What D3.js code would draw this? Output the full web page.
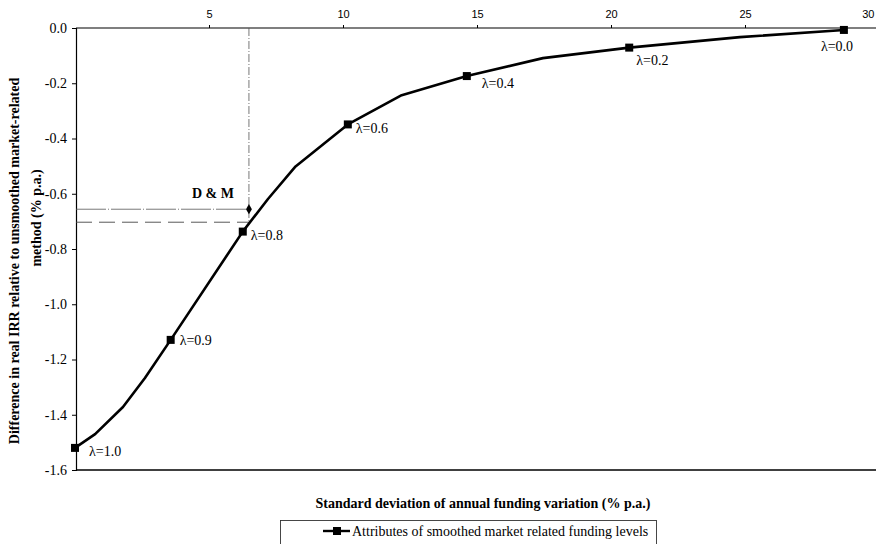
<!DOCTYPE html>
<html>
<head>
<meta charset="utf-8">
<script src="https://cdn.jsdelivr.net/npm/d3@7"></script>
<style>
  html, body { margin: 0; padding: 0; background: #fff; }
  svg { display: block; }
</style>
</head>
<body>
<svg id="chart" width="876" height="544"></svg>
<script>
// Standard deviation of annual funding variation (% p.a.) for each smoothing level
const stdDev  = [0.0, 0.75, 1.79, 2.61, 3.57, 6.26, 7.20, 8.23, 10.18, 12.19, 14.62, 17.46, 20.68, 24.81, 28.69];
// Difference in real IRR relative to the unsmoothed method (% p.a.)
const irrDiff = [-1.52, -1.47, -1.372, -1.267, -1.129, -0.737, -0.619, -0.501, -0.349, -0.243, -0.174, -0.109, -0.071, -0.033, -0.007];
// Smoothing parameter of each point (null = no marker drawn)
const lambdaLabels = ["1.0", null, null, null, "0.9", "0.8", null, null, "0.6", null, "0.4", null, "0.2", null, "0.0"];

// D & M reference point and the dashed comparison level
const dmPoint = { x: 6.49, y: -0.656 };
const dmLevel = -0.703;

const xTicks = [5, 10, 15, 20, 25, 30];
const yTicks = [0.0, -0.2, -0.4, -0.6, -0.8, -1.0, -1.2, -1.4, -1.6];

const svg = d3.select("#chart");
const serif = "'Liberation Serif', 'Times New Roman', serif";
const sans = "'Liberation Sans', Arial, sans-serif";

const x = d3.scaleLinear().domain([0, 30]).range([75, 879]);
const y = d3.scaleLinear().domain([-1.6, 0]).range([470, 28]);

// Frame lines: top axis, bottom edge
svg.append("line").attr("x1", 76).attr("x2", 876).attr("y1", y(0)).attr("y2", y(0))
  .attr("stroke", "#000").attr("stroke-width", 1.2);
svg.append("line").attr("x1", 76).attr("x2", 876).attr("y1", y(-1.6)).attr("y2", y(-1.6))
  .attr("stroke", "#000").attr("stroke-width", 1.5);

// Top x axis
const xAxis = svg.append("g").attr("transform", `translate(0,${y(0)})`)
  .call(d3.axisTop(x).tickValues(xTicks).tickSize(3).tickFormat(d3.format("d")));
xAxis.select(".domain").remove();
xAxis.selectAll("text").attr("font-family", sans).attr("font-size", 11).attr("fill", "#000")
  .attr("dy", "-0.35em");
// the last label sits at the right edge, so it is drawn ending there
xAxis.selectAll(".tick").filter(d => d === 30).select("text")
  .attr("text-anchor", "end").attr("dx", -5);

// Left y axis
const yAxis = svg.append("g").attr("transform", "translate(76,0)")
  .call(d3.axisLeft(y).tickValues(yTicks).tickSize(4).tickPadding(5).tickFormat(d => d.toFixed(1)));
yAxis.select(".domain").attr("stroke-width", 1.2);
yAxis.selectAll("text").attr("font-family", serif).attr("font-size", 14).attr("fill", "#000");

// D & M guide lines
svg.append("line")
  .attr("x1", x(dmPoint.x)).attr("x2", x(dmPoint.x))
  .attr("y1", y(0)).attr("y2", y(dmLevel))
  .attr("stroke", "#555").attr("stroke-width", 0.8).attr("stroke-dasharray", "8,2,1,2");
svg.append("line")
  .attr("x1", 76).attr("x2", x(dmPoint.x))
  .attr("y1", y(dmPoint.y)).attr("y2", y(dmPoint.y))
  .attr("stroke", "#555").attr("stroke-width", 0.8).attr("stroke-dasharray", "30,2,1,2");
svg.append("line")
  .attr("x1", 76).attr("x2", x(dmPoint.x))
  .attr("y1", y(dmLevel)).attr("y2", y(dmLevel))
  .attr("stroke", "#444").attr("stroke-width", 0.9).attr("stroke-dasharray", "16,7");
svg.append("path")
  .attr("d", d3.symbol(d3.symbolDiamond, 30)())
  .attr("transform", `translate(${x(dmPoint.x)},${y(dmPoint.y)})`)
  .attr("fill", "#000");
svg.append("text")
  .attr("x", x(dmPoint.x) - 36).attr("y", y(dmPoint.y) - 11)
  .attr("text-anchor", "middle")
  .attr("font-family", serif).attr("font-size", 14).attr("font-weight", "bold")
  .text("D & M");

// Main series
const pts = stdDev.map((v, i) => ({ x: v, y: irrDiff[i], lab: lambdaLabels[i] }));
svg.append("path")
  .datum(pts)
  .attr("fill", "none").attr("stroke", "#000").attr("stroke-width", 2.6)
  .attr("stroke-linejoin", "round")
  .attr("d", d3.line().x(d => x(d.x)).y(d => y(d.y)));

const marked = pts.filter(d => d.lab !== null);
svg.selectAll("rect.mk").data(marked).join("rect")
  .attr("class", "mk")
  .attr("x", d => x(d.x) - 4).attr("y", d => y(d.y) - 4)
  .attr("width", 8).attr("height", 8).attr("fill", "#000");

// Lambda labels: most sit to the right of the marker, the small-lambda ones below it
const labelOffset = {
  "1.0": [14, 8], "0.9": [9, 5], "0.8": [8, 8], "0.6": [8, 9],
  "0.4": [15, 12], "0.2": [7, 17], "0.0": [-23, 21]
};
svg.selectAll("text.lam").data(marked).join("text")
  .attr("class", "lam")
  .attr("x", d => x(d.x) + labelOffset[d.lab][0])
  .attr("y", d => y(d.y) + labelOffset[d.lab][1])
  .attr("font-family", serif).attr("font-size", 14).attr("fill", "#000")
  .text(d => "\u03bb=" + d.lab);

// Axis titles
svg.append("text")
  .attr("x", 483).attr("y", 508).attr("text-anchor", "middle")
  .attr("font-family", serif).attr("font-size", 14).attr("font-weight", "bold")
  .text("Standard deviation of annual funding variation (% p.a.)");

svg.append("text")
  .attr("transform", "translate(19,261) rotate(-90)").attr("text-anchor", "middle")
  .attr("font-family", serif).attr("font-size", 14).attr("font-weight", "bold")
  .text("Difference in real IRR relative to unsmoothed market-related");
svg.append("text")
  .attr("transform", "translate(41,218) rotate(-90)").attr("text-anchor", "middle")
  .attr("font-family", serif).attr("font-size", 14).attr("font-weight", "bold")
  .text("method (% p.a.)");

// Legend box (runs past the bottom edge)
svg.append("rect")
  .attr("x", 280.5).attr("y", 520.5).attr("width", 376).attr("height", 40)
  .attr("fill", "none").attr("stroke", "#333").attr("stroke-width", 0.9);
svg.append("line").attr("x1", 323).attr("x2", 350).attr("y1", 531).attr("y2", 531)
  .attr("stroke", "#000").attr("stroke-width", 2.4);
svg.append("rect").attr("x", 333).attr("y", 527).attr("width", 8).attr("height", 8).attr("fill", "#000");
svg.append("text")
  .attr("x", 352).attr("y", 536)
  .attr("font-family", serif).attr("font-size", 14).attr("fill", "#000")
  .text("Attributes of smoothed market related funding levels");
</script>
</body>
</html>
